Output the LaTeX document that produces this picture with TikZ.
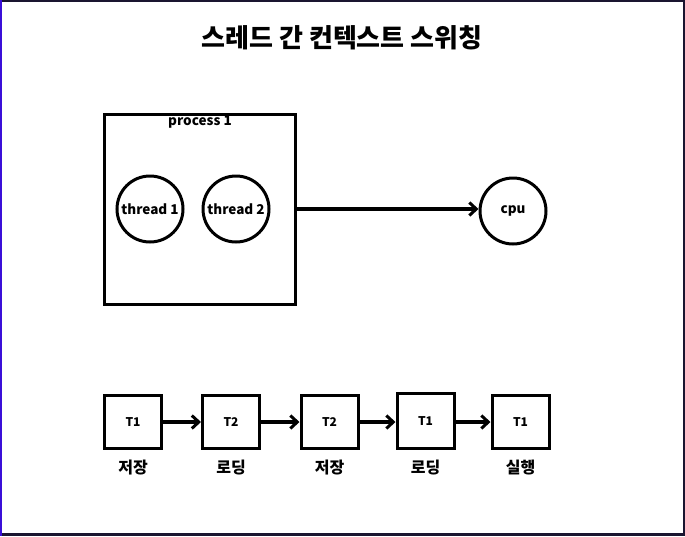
\documentclass[tikz,border=0pt]{standalone}
\usepackage{fontspec}
\setmainfont{Noto Sans CJK KR}
\usetikzlibrary{arrows.meta}
\definecolor{edgedark}{HTML}{1A1530}
\definecolor{edgeblue}{HTML}{3A0FD8}
\tikzset{
  thickbox/.style={draw=black, line width=3pt, minimum width=57pt, minimum height=53pt, inner sep=0pt, font=\fontsize{12}{13}\selectfont\bfseries},
  threadcirc/.style={draw=black, line width=3pt, circle, minimum size=66pt, inner sep=0pt, font=\fontsize{13.5}{14}\selectfont\bfseries},
  flow/.style={line width=3.5pt, -{Straight Barb[length=7pt,width=13pt,line width=3pt]}},
  steplabel/.style={font=\fontsize{16}{17}\selectfont\bfseries}
}
\begin{document}
\begin{tikzpicture}[x=1pt,y=-1pt]
\useasboundingbox (0,0) rectangle (685,536);
\fill[white] (0,0) rectangle (685,536);
% frame
\draw[edgedark, line width=2.5pt] (0,1.2) -- (685,1.2);
\draw[edgedark, line width=2.5pt] (683.8,0) -- (683.8,536);
\draw[edgedark, line width=3pt] (0,534.5) -- (685,534.5);
\draw[edgeblue, line width=2.5pt] (1.2,0) -- (1.2,536);
% title
\node[font=\fontsize{26}{28}\selectfont\bfseries] (title) at (342,38) {스레드 간 컨텍스트 스위칭};
% process box
\node[draw=black, line width=3pt, minimum width=191pt, minimum height=190pt, inner sep=0pt] (proc) at (199.5,209) {};
\node[font=\fontsize{13.5}{14}\selectfont\bfseries] (proclabel) at (200,122) {process 1};
\node[threadcirc] (t1) at (150,209) {thread 1};
\node[threadcirc] (t2) at (236,209) {thread 2};
\node[threadcirc] (cpu) at (513,211) {cpu};
\draw[line width=3.5pt, -{Straight Barb[length=7pt,width=13pt,line width=3pt]}] (proc.east |- t1) -- (cpu.west |- t1);
% bottom sequence
\node[thickbox] (b1) at (133,422) {T1};
\node[thickbox] (b2) at (231,422) {T2};
\node[thickbox] (b3) at (329.5,422) {T2};
\node[thickbox, minimum height=55pt] (b4) at (425.5,421) {T1};
\node[thickbox] (b5) at (520.5,422) {T1};
\draw[flow] (b1) -- (b2);
\draw[flow] (b2) -- (b3);
\draw[flow] (b3) -- (b4.west |- b3);
\draw[flow] (b4.east |- b5) -- (b5);
\node[steplabel] (l1) at (133,468) {저장};
\node[steplabel] (l2) at (231,468) {로딩};
\node[steplabel] (l3) at (329.5,468) {저장};
\node[steplabel] (l4) at (425.5,468) {로딩};
\node[steplabel] (l5) at (520.5,468) {실행};
\end{tikzpicture}
\end{document}
